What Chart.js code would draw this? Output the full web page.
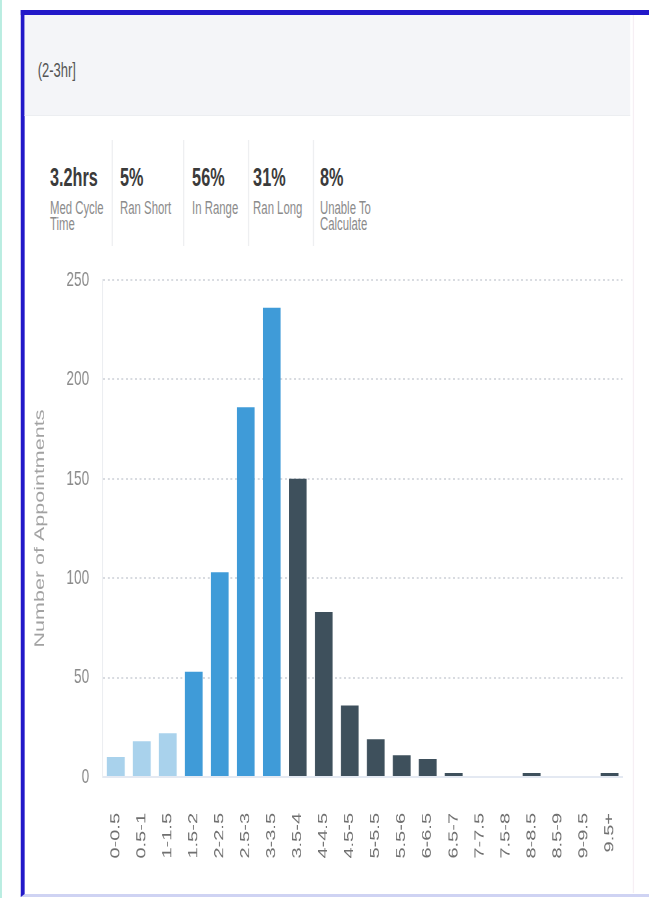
<!DOCTYPE html>
<html>
<head>
<meta charset="utf-8">
<script src="https://cdn.jsdelivr.net/npm/chart.js@4.4.1/dist/chart.umd.min.js"></script>
<style>
  html, body { margin: 0; padding: 0; background: #fff; }
  body { width: 649px; height: 898px; overflow: hidden; position: relative;
         font-family: 'Liberation Sans', Arial, sans-serif; }
  /* the panel is laid out on a 1000px-wide stage and narrowed to the window */
  #stage { position: absolute; left: 0; top: 0; width: 1000px; height: 898px;
           transform: scaleX(0.649); transform-origin: 0 0; }
  .edge { position: absolute; left: 0; top: 0; width: 3px; height: 898px; background: #b9ede1; }
  .card { position: absolute; left: 32px; top: 10px; width: 1000px; height: 887px; box-sizing: border-box;
          border-top: 5px solid #2219c9; border-left: 6px solid #2219c9; border-bottom: 3px solid #cfd3f3;
          background: #fff; }
  .head { position: absolute; left: 38px; top: 15px; width: 933px; height: 101px;
          background: #f4f5f8; border-bottom: 1px solid #eceef1; box-sizing: border-box; }
  .rim { position: absolute; left: 975px; top: 15px; width: 2px; height: 878px; background: #f6eff4; }
  .range { position: absolute; left: 58px; top: 60px; font-size: 20px; line-height: 20px; color: #555; }
  .sep { position: absolute; top: 140px; width: 2px; height: 106px; background: #eeeff1; }
  .val { position: absolute; top: 165px; font-size: 25px; line-height: 25px; font-weight: bold; color: #3b3b3b; white-space: nowrap; }
  .cap { position: absolute; top: 200px; font-size: 17.5px; line-height: 16px; color: #8b8b8b; }
  canvas { position: absolute; left: 0; top: 0; }
</style>
</head>
<body>
<div id="stage">
  <div class="edge"></div>
  <div class="card"></div>
  <div class="head"></div>
  <div class="rim"></div>
  <div class="range" id="range"></div>
  <div id="stats"></div>
  <canvas id="cycleChart" width="1000" height="898"></canvas>
</div>
<script>
// Cycle-time bins (hours) and how many appointments fell in each
const binLabels = ['0-0.5', '0.5-1', '1-1.5', '1.5-2', '2-2.5', '2.5-3', '3-3.5', '3.5-4', '4-4.5', '4.5-5',
                   '5-5.5', '5.5-6', '6-6.5', '6.5-7', '7-7.5', '7.5-8', '8-8.5', '8.5-9', '9-9.5', '9.5+'];
const appointmentCounts = [10, 18, 22, 53, 103, 186, 236, 150, 83, 36, 19, 11, 9, 2, 0, 0, 2, 0, 0, 2];
// Outcome of each bin relative to the scheduled range
const binOutcome = ['short', 'short', 'short', 'range', 'range', 'range', 'range', 'long', 'long', 'long',
                    'long', 'long', 'long', 'long', 'long', 'long', 'long', 'long', 'long', 'long'];
const yTickValues = [0, 50, 100, 150, 200, 250];

// Summary figures shown above the chart
const scheduledRange = '(2-3hr]';
const statValues = ['3.2hrs', '5%', '56%', '31%', '8%'];
const statCaptions = ['Med Cycle Time', 'Ran Short', 'In Range', 'Ran Long', 'Unable To Calculate'];

// Layout of the summary row
const statLeft = [77, 185, 296, 390, 493];
const statWidth = [95, 95, 85, 90, 100];
const dividerLeft = [172, 282, 382, 482];

document.getElementById('range').textContent = scheduledRange;
const stats = document.getElementById('stats');
statValues.forEach((v, i) => {
  const val = document.createElement('div');
  val.className = 'val';
  val.style.left = statLeft[i] + 'px';
  val.textContent = v;
  stats.appendChild(val);
  const cap = document.createElement('div');
  cap.className = 'cap';
  cap.style.left = statLeft[i] + 'px';
  cap.style.width = statWidth[i] + 'px';
  cap.textContent = statCaptions[i];
  stats.appendChild(cap);
});
dividerLeft.forEach(x => {
  const d = document.createElement('div');
  d.className = 'sep';
  d.style.left = x + 'px';
  stats.appendChild(d);
});

const outcomeColor = { short: '#a9d2ec', range: '#3f9bd8', long: '#3e505c' };

Chart.defaults.font.family = "'Liberation Sans', Arial, sans-serif";

new Chart(document.getElementById('cycleChart'), {
  type: 'bar',
  data: {
    labels: binLabels,
    datasets: [{
      data: appointmentCounts,
      backgroundColor: binOutcome.map(o => outcomeColor[o]),
      borderWidth: 0,
      categoryPercentage: 1,
      barPercentage: 0.685
    }]
  },
  options: {
    responsive: false,
    animation: false,
    layout: { padding: { top: 280, right: 28, left: 0, bottom: 0 } },
    plugins: { legend: { display: false }, tooltip: { enabled: false } },
    scales: {
      x: {
        grid: { display: false, drawTicks: false },
        border: { display: true, color: '#e4e9f2', width: 2 },
        ticks: { autoSkip: false, minRotation: 90, maxRotation: 90, padding: 36,
                 color: '#707070', font: { size: 20 } },
        afterFit(scale) { scale.height = 121; }
      },
      y: {
        min: 0, max: 250,
        grid: { color: '#d8dbe0', lineWidth: 2, drawTicks: false },
        border: { display: true, color: '#eceef1', width: 2, dash: [3, 4] },
        afterBuildTicks(scale) { scale.ticks = yTickValues.map(v => ({ value: v })); },
        ticks: { padding: 21, color: '#8a8a8a', font: { size: 21 } },
        title: { display: true, text: 'Number of Appointments', color: '#a2a2a2',
                 font: { size: 21.5 }, padding: { top: 48.7, bottom: 0 } },
        afterFit(scale) { scale.width = 158.4; }
      }
    }
  }
});
</script>
</body>
</html>
